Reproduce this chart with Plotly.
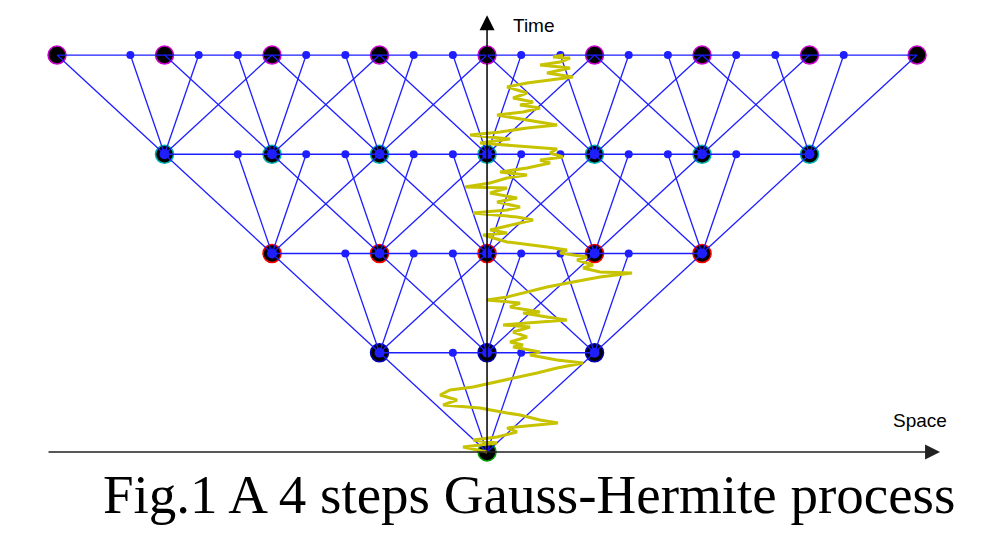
import plotly.graph_objects as go

# ---- lattice model data ----
levels = [0, 1, 2, 3, 4]                      # time steps
branch_offsets = [-1.0, -0.3178, 0.3178, 1.0]  # 4-point Gauss-Hermite (scaled)
big_outline = ["#00a000", "#0000b0", "#ff0000", "#00b0b0", "#d000d0"]

# ---- sample Brownian path (space, time) ----
path_space = [0, -0.223, 0.093, -0.130, 0.093, 0.279, 0.186, 0.465, 0.660, 0.493,
              0.307, 0.186, -0.065, -0.409, -0.279, -0.437, -0.344, -0.130, 0.093, 0.242,
              0.465, 0.651, 0.893, 0.651, 0.400, 0.493, 0.242, 0.335, 0.214, 0.372,
              0.242, 0.400, 0.149, 0.372, 0.744, 0.558, 0.335, 0.493, 0.214, 0.307,
              0.0, 0.186, 0.372, 0.558, 0.800, 1.051, 1.349, 1.051, 0.893, 0.986,
              0.837, 0.930, 0.679, 0.744, 0.558, 0.400, 0.186, -0.037, 0.186, 0.028,
              0.242, 0.428, 0.279, -0.130, 0.186, 0.307, 0.093, 0.279, 0.028, 0.186,
              -0.205, 0.028, 0.186, 0.372, 0.121, 0.372, 0.586, 0.493, 0.707, 0.586,
              0.651, 0.428, 0.242, -0.065, 0.214, -0.158, 0.121, 0.372, 0.651, 0.493,
              0.279, 0.093, 0.335, 0.493, 0.307, 0.428, 0.242, 0.372, 0.186, 0.372,
              0.586, 0.800, 0.558, 0.772, 0.493, 0.679, 0.772, 0.614, 0.707]
path_time = [0, 0.050, 0.091, 0.121, 0.151, 0.202, 0.242, 0.272, 0.292, 0.322,
             0.373, 0.393, 0.443, 0.474, 0.524, 0.574, 0.625, 0.655, 0.705, 0.746,
             0.796, 0.846, 0.897, 0.927, 0.977, 1.008, 1.058, 1.078, 1.108, 1.159,
             1.209, 1.259, 1.280, 1.300, 1.330, 1.360, 1.401, 1.411, 1.461, 1.501,
             1.532, 1.562, 1.612, 1.662, 1.713, 1.763, 1.804, 1.814, 1.854, 1.884,
             1.935, 1.965, 2.005, 2.035, 2.065, 2.086, 2.116, 2.186, 2.207, 2.237,
             2.287, 2.338, 2.368, 2.408, 2.438, 2.469, 2.519, 2.559, 2.610, 2.660,
             2.670, 2.710, 2.761, 2.791, 2.821, 2.861, 2.912, 2.942, 2.972, 3.013,
             3.053, 3.073, 3.093, 3.113, 3.154, 3.194, 3.224, 3.264, 3.295, 3.325,
             3.365, 3.395, 3.426, 3.466, 3.496, 3.526, 3.567, 3.617, 3.678, 3.718,
             3.748, 3.778, 3.819, 3.869, 3.899, 3.929, 3.970, 3.980, 4.000]

caption = "Fig.1 A 4 steps Gauss-Hermite process"

# ---- build geometry from model ----
nodes = {k: list(range(-k, k + 1)) for k in levels}
seg_x, seg_y = [], []
small_x, small_y = [], []
for k in levels[:-1]:
    for j in nodes[k]:
        for o in branch_offsets:
            seg_x += [j, j + o, None]
            seg_y += [k, k + 1, None]
            if abs(o) < 1:
                small_x.append(j + o)
                small_y.append(k + 1)
for k in levels[1:]:
    seg_x += [min(nodes[k]), max(nodes[k]), None]
    seg_y += [k, k, None]

fig = go.Figure()
blue = "rgb(30,30,255)"

# big black nodes
for k in levels:
    fig.add_trace(go.Scatter(
        x=nodes[k], y=[k] * len(nodes[k]), mode="markers",
        marker=dict(size=18, color="black", line=dict(color=big_outline[k], width=1.5)),
        hoverinfo="skip"))

# lattice lines
fig.add_trace(go.Scatter(x=seg_x, y=seg_y, mode="lines",
                         line=dict(color=blue, width=1.3), hoverinfo="skip"))
# small dots
fig.add_trace(go.Scatter(x=small_x, y=small_y, mode="markers",
                         marker=dict(size=8, color=blue), hoverinfo="skip"))
# blue centres of inner nodes
cx, cy = [], []
for k in levels[1:-1]:
    cx += nodes[k]
    cy += [k] * len(nodes[k])
fig.add_trace(go.Scatter(x=cx, y=cy, mode="markers",
                         marker=dict(size=10, color=blue), hoverinfo="skip"))

# Brownian path
fig.add_trace(go.Scatter(x=path_space, y=path_time, mode="lines",
                         line=dict(color="rgb(200,195,0)", width=3), hoverinfo="skip"))

# axes arrows
fig.add_annotation(x=4.214, y=0, ax=-4.093, ay=0, xref="x", yref="y", axref="x", ayref="y",
                   showarrow=True, arrowhead=2, arrowsize=2, arrowwidth=1.5,
                   arrowcolor="#222222", text="")
fig.add_annotation(x=0, y=4.40, ax=0, ay=0, xref="x", yref="y", axref="x", ayref="y",
                   showarrow=True, arrowhead=2, arrowsize=2, arrowwidth=1.5,
                   arrowcolor="black", text="")

fig.add_annotation(x=0.44, y=4.30, text="Time", showarrow=False,
                   font=dict(family="Liberation Sans, Arial", size=19, color="black"))
fig.add_annotation(x=4.03, y=0.322, text="Space", showarrow=False,
                   font=dict(family="Liberation Sans, Arial", size=19, color="black"))
fig.add_annotation(x=0.391, y=-0.433, text=caption, showarrow=False, yanchor="middle",
                   font=dict(family="Liberation Serif, Times New Roman, serif", size=55,
                             color="black"))

fig.update_layout(
    width=967, height=531, margin=dict(l=0, r=0, t=0, b=0),
    plot_bgcolor="white", paper_bgcolor="white", showlegend=False,
    xaxis=dict(range=[-4.456, 4.539], visible=False, fixedrange=True),
    yaxis=dict(range=[-0.877, 4.474], visible=False, fixedrange=True),
)
fig.write_html("out.html")
